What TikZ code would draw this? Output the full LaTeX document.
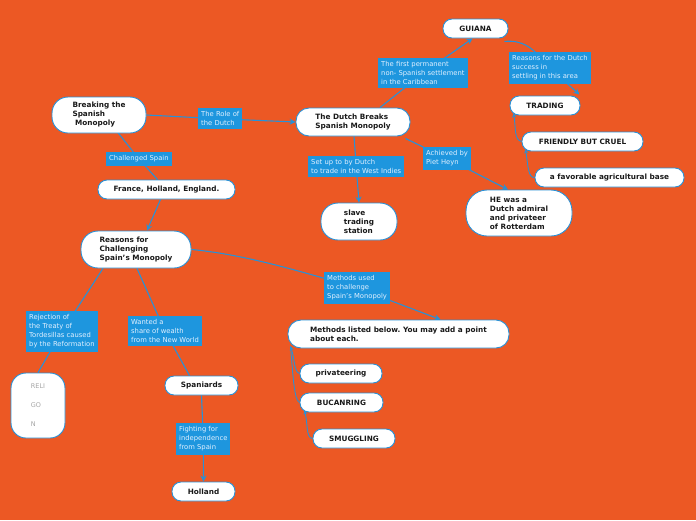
\documentclass[tikz,border=0pt]{standalone}
\usepackage{fontspec}
\setmainfont{DejaVu Sans}
\usetikzlibrary{arrows.meta}
\definecolor{bgorange}{RGB}{236,88,36}
\definecolor{lblblue}{RGB}{30,150,222}
\definecolor{edgeblue}{RGB}{40,145,215}
\definecolor{lbltext}{RGB}{225,240,255}
\definecolor{graytext}{RGB}{165,165,165}
\pgfdeclarelayer{bg}
\pgfdeclarelayer{edges}
\pgfsetlayers{bg,edges,main}
\tikzset{
  topic/.style={draw=edgeblue, line width=0.9pt, fill=white, rounded corners=9pt,
    align=left, inner sep=0pt, text=black!90,
    font=\frenchspacing\bfseries\fontsize{7.3}{9}\selectfont},
  lbl/.style={fill=lblblue, text=lbltext, align=left, inner xsep=3pt, inner ysep=3.5pt,
    anchor=north west, font=\fontsize{6.8}{9}\selectfont},
  conn/.style={draw=edgeblue, line width=1.1pt},
  arr/.style={conn, -{Stealth[length=6pt,width=6pt]}},
  rarr/.style={conn, line width=0.9pt, {Stealth[length=4pt,width=4pt]}-}
}
\begin{document}
\begin{tikzpicture}[x=1pt,y=-1pt]
\begin{pgfonlayer}{bg}
\fill[bgorange] (0,0) rectangle (696,520);
\end{pgfonlayer}
\useasboundingbox (0,0) rectangle (696,520);

% topics
\node[topic, minimum width=94pt, minimum height=36pt, rounded corners=16pt] (brk) at (99,115) {Breaking the\\Spanish\\\ Monopoly};
\node[topic, minimum width=114pt, minimum height=28pt, rounded corners=13pt] (dutch) at (353,122) {The Dutch Breaks\\Spanish Monopoly};
\node[topic, minimum width=65pt, minimum height=19pt] (guiana) at (475.5,28.5) {GUIANA};
\node[topic, minimum width=70pt, minimum height=19pt] (trading) at (545,105.5) {TRADING};
\node[topic, minimum width=121pt, minimum height=19pt] (friendly) at (582.5,141.5) {FRIENDLY BUT CRUEL};
\node[topic, minimum width=149pt, minimum height=19pt] (agri) at (609.5,177.5) {a favorable agricultural base};
\node[topic, minimum width=76pt, minimum height=37pt, rounded corners=17pt] (slave) at (359,221.5) {slave\\trading\\station};
\node[topic, minimum width=106pt, minimum height=46pt, rounded corners=21pt] (heyn) at (519,213) {HE was a\\Dutch admiral\\and privateer\\of Rotterdam};
\node[topic, minimum width=137pt, minimum height=19pt] (france) at (166.5,189.5) {France, Holland, England.};
\node[topic, minimum width=110pt, minimum height=37pt, rounded corners=17pt] (reasons) at (136,249.5) {Reasons for\\Challenging\\Spain's Monopoly};
\node[topic, minimum width=221pt, minimum height=28pt, rounded corners=13pt] (methods) at (398.5,334) {Methods listed below. You may add a point\\about each.};
\node[topic, minimum width=82pt, minimum height=19pt] (priv) at (341,373.5) {privateering};
\node[topic, minimum width=83pt, minimum height=19pt] (buc) at (341.5,402.5) {BUCANRING};
\node[topic, minimum width=82pt, minimum height=19pt] (smug) at (354,438.5) {SMUGGLING};
\node[topic, minimum width=54pt, minimum height=65pt, rounded corners=15pt, text=graytext,
  font=\fontsize{6.5}{19}\selectfont] (relig) at (38,405.5) {RELI\\GO\\N};
\node[topic, minimum width=73pt, minimum height=19pt] (span) at (201.5,385.5) {Spaniards};
\node[topic, minimum width=63pt, minimum height=19pt] (holl) at (203.5,491.5) {Holland};

% labels
\node[lbl] (role) at (198,108) {The Role of\\the Dutch};
\node[lbl] (perm) at (378,58) {The first permanent\\non- Spanish settlement\\in the Caribbean};
\node[lbl] (reasdutch) at (509,52) {Reasons for the Dutch\\success in\\settling in this area};
\node[lbl] (setup) at (308,156) {Set up to by Dutch\\to trade in the West Indies};
\node[lbl] (achieved) at (423,147) {Achieved by\\Piet Heyn};
\node[lbl] (challenged) at (106,152) {Challenged Spain};
\node[lbl] (methused) at (324,272) {Methods used\\to challenge\\Spain's Monopoly};
\node[lbl] (reject) at (26,311) {Rejection of\\the Treaty of\\Tordesillas caused\\by the Reformation};
\node[lbl] (wanted) at (128,316) {Wanted a\\share of wealth\\from the New World};
\node[lbl] (fighting) at (176,423) {Fighting for\\independence\\from Spain};

% connectors
\begin{pgfonlayer}{edges}
\draw[conn] (brk.east) -- (role.center);
\draw[arr] (role.center) -- (dutch.west);
\draw[conn] ([xshift=18pt,yshift=2pt]brk.south) -- (challenged.center);
\draw[conn] (challenged.center) -- ([xshift=-9pt]france.north);
\draw[arr] ([xshift=-6pt]france.south) -- ([xshift=11pt]reasons.north);
\draw[conn] ([xshift=27pt]dutch.north) -- (perm.center);
\draw[arr] (perm.center) -- ([xshift=-3pt]guiana.south);
\draw[conn] ([xshift=-4pt,yshift=-3pt]guiana.south east) .. controls (522,40) and (532,46) .. (reasdutch.center);
\draw[arr] (reasdutch.center) -- ([xshift=-1pt,yshift=1pt]trading.north east);
\draw[conn] ([xshift=1pt]dutch.south) -- (setup.center);
\draw[arr] (setup.center) -- (slave.north);
\draw[conn] ([xshift=-5pt,yshift=-2pt]dutch.south east) -- (achieved.center);
\draw[arr] (achieved.center) -- ([xshift=-11pt]heyn.north);
\draw[conn] (reasons.east) .. controls (240,254) and (290,268) .. (methused.center);
\draw[arr] (methused.center) -- ([xshift=42pt]methods.north);
\draw[conn] ([xshift=-33pt]reasons.south) -- (reject.center);
\draw[conn] (reject.center) -- (relig.north);
\draw[conn] ([xshift=1pt]reasons.south) -- (wanted.center);
\draw[conn] (wanted.center) -- ([xshift=-12pt]span.north);
\draw[conn] (span.south) -- (fighting.center);
\draw[arr] (fighting.center) -- (holl.north);
\draw[rarr] ([xshift=4pt,yshift=2pt]trading.south west) .. controls (516,128) and (514,140) .. (friendly.west);
\draw[rarr] ([xshift=4pt,yshift=2pt]friendly.south west) .. controls (528,165) and (528,178) .. (agri.west);
\draw[rarr] ([xshift=3pt,yshift=2pt]methods.south west) .. controls (295,360) and (294,372) .. (priv.west);
\draw[conn, line width=0.9pt] ([xshift=3pt,yshift=2pt]methods.south west) .. controls (293,375) and (294,400) .. (buc.west);
\draw[rarr] ([xshift=5pt,yshift=2pt]buc.south west) .. controls (308,425) and (306,438) .. (smug.west);
\end{pgfonlayer}
\end{tikzpicture}
\end{document}
